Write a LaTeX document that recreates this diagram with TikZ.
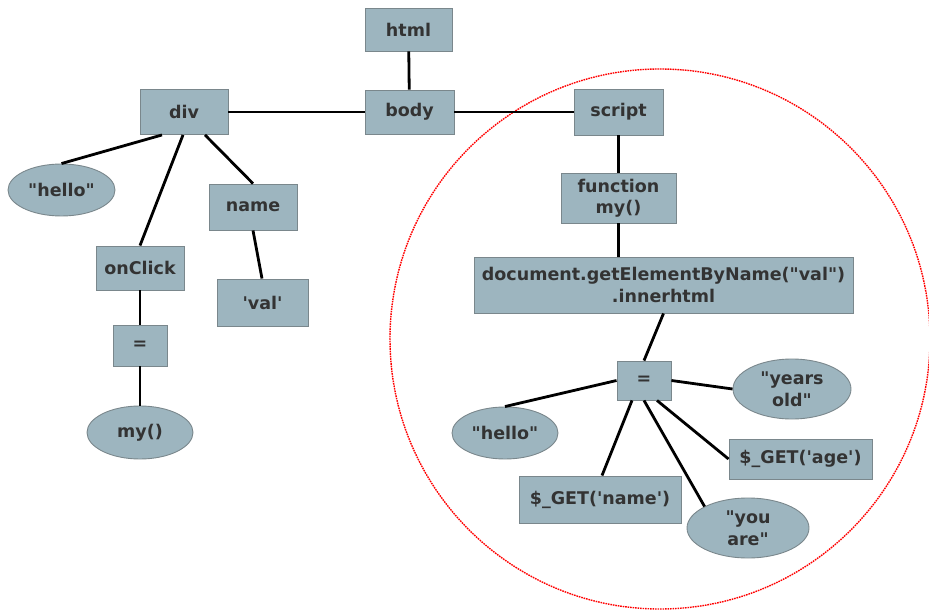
\documentclass[tikz,border=0pt]{standalone}
\usepackage{fontspec}
\newfontfamily\labelfont{DejaVu Sans}
\usetikzlibrary{shapes.geometric}
\definecolor{nodefill}{HTML}{9DB5BF}
\definecolor{nodeedge}{HTML}{7A878C}
\definecolor{nodetext}{HTML}{333333}
\tikzset{
  base/.style={fill=nodefill, draw=nodeedge, line width=0.9pt, inner sep=0pt,
    text=nodetext, font=\labelfont\fontsize{17.5}{21.5}\selectfont\bfseries, align=center},
  box/.style={base, rectangle},
  oval/.style={base, ellipse},
  link/.style={line width=2.8pt, black},
  scope ring/.style={draw=red, dash pattern=on 1.6pt off 0.9pt, line width=1.4pt}
}
\begin{document}
\begin{tikzpicture}[x=1pt,y=-1pt]
\useasboundingbox (0,0) rectangle (929,612);
% highlighted script subtree
\draw[scope ring] (660,339) circle[radius=270];

% DOM tree
\node[box, minimum width=87, minimum height=43] (html) at (408.5,29.5) {html};
\node[box, minimum width=89, minimum height=44] (body) at (409.5,112) {body};
\node[box, minimum width=88, minimum height=45] (div) at (184,112) {div};
\node[box, minimum width=89, minimum height=46] (script) at (618.5,112) {script};

% div subtree
\node[oval, minimum width=107, minimum height=52] (hello1) at (61.5,190) {"hello"};
\node[box, minimum width=88, minimum height=44] (onclick) at (140,268) {onClick};
\node[box, minimum width=88, minimum height=46] (name) at (253,207) {name};
\node[box, minimum width=91, minimum height=47] (val) at (262.5,302.5) {'val'};
\node[box, minimum width=54, minimum height=41] (eq1) at (140,345.5) {=};
\node[oval, minimum width=106, minimum height=53] (my) at (140,432.5) {my()};

% script subtree
\node[box, minimum width=115, minimum height=50] (func) at (618.5,198) {function\\my()};
\node[box, minimum width=379, minimum height=56] (doc) at (663.5,285)
  {document.getElementByName("val")\\.innerhtml};
\node[box, minimum width=54, minimum height=39] (eq2) at (644,380.5) {=};
\node[oval, minimum width=118, minimum height=60] (years) at (792,389) {"years\\old"};
\node[oval, minimum width=106, minimum height=52] (hello2) at (505,433) {"hello"};
\node[box, minimum width=143, minimum height=40] (age) at (800.5,459) {\$\_GET('age')};
\node[box, minimum width=162, minimum height=47] (getname) at (600,499.5) {\$\_GET('name')};
\node[oval, minimum width=122, minimum height=60] (you) at (748,528) {"you\\are"};

% connectors
\draw[link] (html) -- (body);
\draw[link] (div) -- (body);
\draw[link] (body) -- (script);
\draw[link] ([xshift=-22pt]div.south) -- (hello1.north);
\draw[link] ([xshift=-1pt]div.south) -- (onclick.north);
\draw[link] ([xshift=21pt]div.south) -- (name.north);
\draw[link] (name.south) -- ([xshift=-0.5pt]val.north);
\draw[link] (onclick) -- (eq1);
\draw[link] (eq1) -- (my);
\draw[link] (script) -- (func);
\draw[link] (func.south) -- (func.south |- doc.north);
\draw[link] (doc.south) -- (eq2.north);
\draw[link] (eq2.west) -- (hello2.north);
\draw[link] (eq2.east) -- (years.west);
\draw[link] ([xshift=-12pt]eq2.south) -- ([xshift=2pt]getname.north);
\draw[link] (eq2.south) -- (you.north west);
\draw[link] ([xshift=13pt]eq2.south) -- (age.west);
\end{tikzpicture}
\end{document}
